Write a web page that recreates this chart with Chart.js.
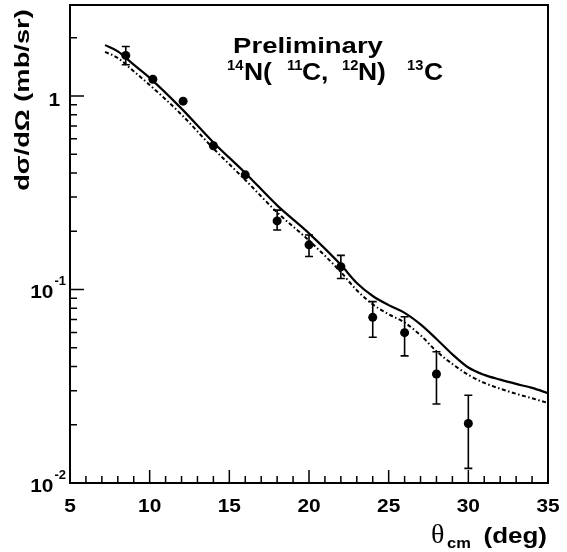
<!DOCTYPE html>
<html>
<head>
<meta charset="utf-8">
<script src="https://cdn.jsdelivr.net/npm/chart.js@4.4.0/dist/chart.umd.min.js"></script>
<style>
  html, body { margin: 0; padding: 0; background: #fff; }
</style>
</head>
<body>
<canvas id="xsecChart" width="567" height="552"></canvas>
<script>
// measured points (theta_cm in deg, dsigma/dOmega in mb/sr)
const dataAngle = [8.5, 10.2, 12.1, 14, 16, 18, 20, 22, 24, 26, 28, 30];
const dataXsec  = [1.62, 1.22, 0.94, 0.553, 0.391, 0.226, 0.170, 0.131, 0.0718, 0.0598, 0.0366, 0.0203];
const errHigh   = [1.80, null, null, null, null, 0.257, 0.191, 0.150, 0.0865, 0.0723, 0.0477, 0.0284];
const errLow    = [1.45, null, null, null, null, 0.203, 0.148, 0.114, 0.0566, 0.0454, 0.0256, 0.0119];

// calculations (solid and dotted curves)
const curveAngle  = [7.2, 8, 9, 10, 12, 14, 16, 18, 20, 22, 23, 24, 25, 26, 27, 28, 29, 30, 31, 32, 33, 34, 35];
const solidXsec   = [1.83, 1.70, 1.45, 1.24, 0.86, 0.575, 0.40, 0.272, 0.195, 0.134, 0.108, 0.0925, 0.083, 0.0757,
                     0.066, 0.0555, 0.0462, 0.0395, 0.0362, 0.0342, 0.0325, 0.031, 0.0291];
const dottedXsec  = [1.69, 1.57, 1.34, 1.14, 0.80, 0.535, 0.368, 0.250, 0.179, 0.123, 0.099, 0.0838, 0.0745, 0.0675,
                     0.058, 0.048, 0.0412, 0.0362, 0.0329, 0.0307, 0.0289, 0.0274, 0.0259];

// axes
const xMin = 5, xMax = 35;
const yMin = 0.01, yMax = 2.95;
const xTicks = [5, 10, 15, 20, 25, 30, 35];
const yDecades = [0.01, 0.1, 1];
const yDecadeLabels = [['10', '-2'], ['10', '-1'], ['1', '']];

const SANS = '"Liberation Sans", Arial, sans-serif';
const SERIF = '"Liberation Serif", "Times New Roman", serif';

function pairs(xs, ys) {
    return xs.map((x, i) => ({ x: x, y: ys[i] }));
}

// text with a horizontal stretch, like the wide Helvetica of the original
function stretchText(ctx, text, x, y, font, stretch, align) {
    ctx.save();
    ctx.font = font;
    const w = ctx.measureText(text).width * stretch;
    let left = x;
    if (align === 'center') left = x - w / 2;
    if (align === 'right') left = x - w;
    ctx.translate(left, y);
    ctx.scale(stretch, 1);
    ctx.textAlign = 'left';
    ctx.fillText(text, 0, 0);
    ctx.restore();
    return w;
}

const errorBars = {
    id: 'errorBars',
    beforeDatasetsDraw(chart) {
        const ctx = chart.ctx;
        const xs = chart.scales.x, ys = chart.scales.y;
        ctx.save();
        ctx.strokeStyle = '#000';
        ctx.lineWidth = 1.6;
        dataAngle.forEach((a, i) => {
            if (errHigh[i] == null) return;
            const px = xs.getPixelForValue(a);
            const top = ys.getPixelForValue(errHigh[i]);
            const bot = ys.getPixelForValue(errLow[i]);
            ctx.beginPath();
            ctx.moveTo(px, top); ctx.lineTo(px, bot);
            ctx.moveTo(px - 4, top); ctx.lineTo(px + 4, top);
            ctx.moveTo(px - 4, bot); ctx.lineTo(px + 4, bot);
            ctx.stroke();
        });
        ctx.restore();
    }
};

const frameAndText = {
    id: 'frameAndText',
    afterDraw(chart) {
        const ctx = chart.ctx;
        const area = chart.chartArea;
        const xs = chart.scales.x, ys = chart.scales.y;
        ctx.save();
        ctx.strokeStyle = '#000';
        ctx.fillStyle = '#000';

        // frame
        ctx.lineWidth = 2;
        ctx.strokeRect(area.left, area.top, area.right - area.left, area.bottom - area.top);

        // x ticks, pointing inward
        ctx.lineWidth = 1.5;
        ctx.beginPath();
        for (let v = xMin; v <= xMax; v++) {
            const px = xs.getPixelForValue(v);
            const len = v % 5 === 0 ? 13 : 7;
            ctx.moveTo(px, area.bottom);
            ctx.lineTo(px, area.bottom - len);
        }
        // y ticks, pointing inward
        for (let d = 0.01; d < yMax; d *= 10) {
            for (let m = 1; m <= 9; m++) {
                const v = d * m;
                if (v > yMax) break;
                const py = ys.getPixelForValue(v);
                const len = m === 1 ? 14 : 7;
                ctx.moveTo(area.left, py);
                ctx.lineTo(area.left + len, py);
            }
        }
        ctx.stroke();

        // x tick labels
        xTicks.forEach(v => {
            stretchText(ctx, String(v), xs.getPixelForValue(v), area.bottom + 29, 'bold 19px ' + SANS, 1.1, 'center');
        });

        // y tick labels with exponents
        yDecades.forEach((v, i) => {
            const py = ys.getPixelForValue(v);
            const [base, exp] = yDecadeLabels[i];
            if (exp) {
                ctx.font = 'bold 13px ' + SANS;
                const ew = ctx.measureText(exp).width;
                stretchText(ctx, exp, 66, py - 4, 'bold 13px ' + SANS, 1.0, 'right');
                stretchText(ctx, base, 66 - ew - 1, py + 9, 'bold 19px ' + SANS, 1.1, 'right');
            } else {
                stretchText(ctx, base, 60, py + 10, 'bold 19px ' + SANS, 1.1, 'right');
            }
        });

        // x axis title: theta_cm (deg)
        stretchText(ctx, '\u03b8', 431, 543, '28px ' + SERIF, 1.0, 'left');
        stretchText(ctx, 'cm', 447, 548, 'bold 15px ' + SANS, 1.1, 'left');
        stretchText(ctx, '(deg)', 547, 543, 'bold 22px ' + SANS, 1.18, 'right');

        // y axis title, rotated
        ctx.save();
        ctx.translate(29, 100);
        ctx.rotate(-Math.PI / 2);
        stretchText(ctx, 'd\u03c3/d\u03a9 (mb/sr)', 0, 0, 'bold 21px ' + SANS, 1.3, 'center');
        ctx.restore();

        // annotation
        stretchText(ctx, 'Preliminary', 308, 53, 'bold 22px ' + SANS, 1.25, 'center');
        const big = 'bold 23px ' + SANS, small = 'bold 14px ' + SANS;
        stretchText(ctx, '14', 227, 70, small, 1.05, 'left');
        stretchText(ctx, 'N(', 244, 80, big, 1.15, 'left');
        stretchText(ctx, '11', 287, 70, small, 1.05, 'left');
        stretchText(ctx, 'C,', 302, 80, big, 1.15, 'left');
        stretchText(ctx, '12', 342, 70, small, 1.05, 'left');
        stretchText(ctx, 'N)', 358, 80, big, 1.15, 'left');
        stretchText(ctx, '13', 407, 70, small, 1.05, 'left');
        stretchText(ctx, 'C', 424, 80, big, 1.15, 'left');

        ctx.restore();
    }
};

const ctx = document.getElementById('xsecChart').getContext('2d');
new Chart(ctx, {
    type: 'scatter',
    data: {
        datasets: [
            {
                label: 'data',
                data: pairs(dataAngle, dataXsec),
                showLine: false,
                pointRadius: 4.5,
                pointBackgroundColor: '#000',
                pointBorderColor: '#000',
                pointBorderWidth: 0,
                order: 0
            },
            {
                label: 'solid',
                data: pairs(curveAngle, solidXsec),
                showLine: true,
                borderColor: '#000',
                borderWidth: 2.2,
                pointRadius: 0,
                cubicInterpolationMode: 'monotone',
                order: 1
            },
            {
                label: 'dotted',
                data: pairs(curveAngle, dottedXsec),
                showLine: true,
                borderColor: '#000',
                borderWidth: 2,
                borderDash: [4, 2.5, 1.5, 2.5],
                pointRadius: 0,
                cubicInterpolationMode: 'monotone',
                order: 2
            }
        ]
    },
    options: {
        responsive: false,
        animation: false,
        devicePixelRatio: 1,
        layout: { padding: { left: 70, right: 19, top: 5, bottom: 69 } },
        plugins: {
            legend: { display: false },
            tooltip: { enabled: false }
        },
        scales: {
            x: {
                type: 'linear',
                min: xMin,
                max: xMax,
                ticks: { display: false },
                grid: { display: false },
                border: { display: false },
                afterFit: s => { s.height = 0; }
            },
            y: {
                type: 'logarithmic',
                min: yMin,
                max: yMax,
                ticks: { display: false },
                grid: { display: false },
                border: { display: false },
                afterFit: s => { s.width = 0; }
            }
        }
    },
    plugins: [errorBars, frameAndText]
});
</script>
</body>
</html>
